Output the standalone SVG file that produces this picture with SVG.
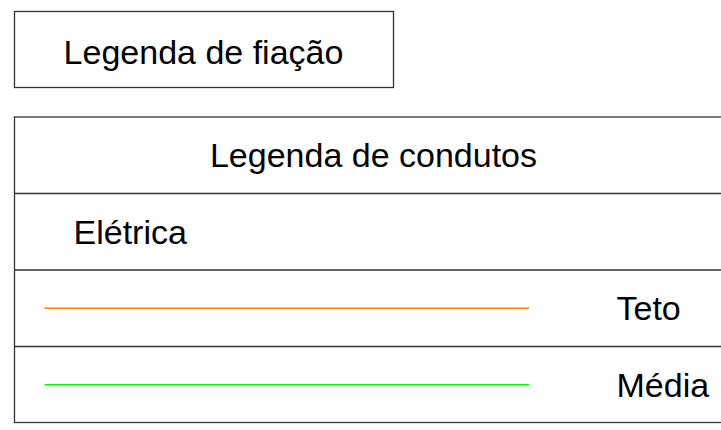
<svg xmlns="http://www.w3.org/2000/svg" width="721" height="430" viewBox="0 0 721 430">
<style>
.box{fill:#fff;stroke:#333;stroke-width:1.3}
.t{font-family:"Liberation Sans",Arial,sans-serif;font-size:34px;fill:#000}
.rule{stroke:#333;stroke-width:1.3}
</style>
<rect width="721" height="430" fill="#fff"/>
<g id="wiring-legend">
<rect class="box" x="14.5" y="11.5" width="379" height="76"/>
<text class="t" x="203.5" y="64" text-anchor="middle">Legenda de fiação</text>
</g>
<g id="conduit-legend">
<rect class="box" x="14.5" y="117" width="720" height="305.5"/>
<line class="rule" x1="14.5" y1="193.5" x2="735" y2="193.5" stroke="#111"/>
<line class="rule" x1="14.5" y1="270" x2="735" y2="270"/>
<line class="rule" x1="14.5" y1="346.5" x2="735" y2="346.5"/>
<text class="t" x="373.5" y="167" text-anchor="middle">Legenda de condutos</text>
<text class="t" x="73.5" y="244">Elétrica</text>
</g>
<g id="row-teto">
<line x1="44.5" y1="308.3" x2="529" y2="308.3" stroke="#FF8000" stroke-width="1.5"/>
<text class="t" x="616.5" y="320">Teto</text>
</g>
<g id="row-media">
<line x1="44.5" y1="384.7" x2="529" y2="384.7" stroke="#00FF00" stroke-width="1.5"/>
<text class="t" x="616.5" y="396.5">Média</text>
</g>
</svg>
